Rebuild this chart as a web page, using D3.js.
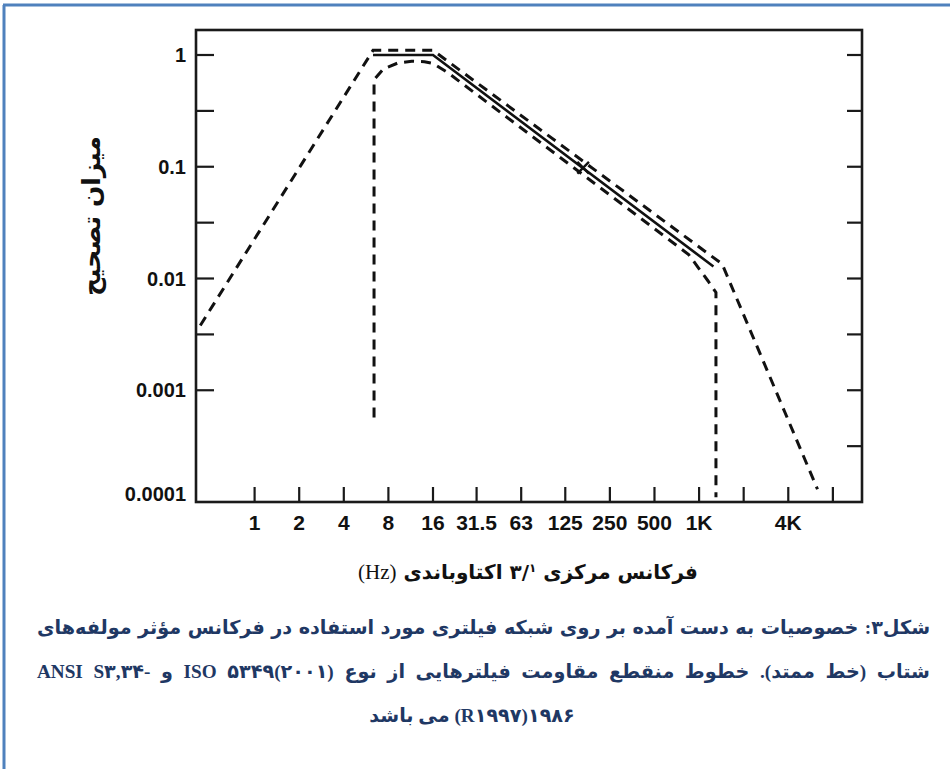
<!DOCTYPE html>
<html><head><meta charset="utf-8">
<script src="https://cdn.jsdelivr.net/npm/d3@7"></script>
<style>body{margin:0;background:#fff;} svg{display:block;}</style>
</head><body>
<svg id="chart" width="950" height="769"></svg>
<script>
// ---------- data ----------
const xTickValues = [1, 2, 4, 8, 16, 31.5, 63, 125, 250, 500, 1000, 2000, 4000, 8000];
const xTickLabels = ["1", "2", "4", "8", "16", "31.5", "63", "125", "250", "500", "1K", "", "4K", ""];
const yTickValues = [1, 0.1, 0.01, 0.001, 0.0001];
const yTickLabels = ["1", "0.1", "0.01", "0.001", "0.0001"];
const yMinorTicks = [0.316, 0.0316, 0.00316];
// solid line: frequency weighting
const weightFreq = [6.3, 16, 1250];
const weightVal = [1, 1, 0.0128];
// dashed upper tolerance
const upperFreq = [0.43, 6.3, 16, 1430, 6300];
const upperVal = [0.0038, 1.1, 1.1, 0.0135, 0.00013];
// dashed lower tolerance
const lowerFreq = [6.4, 6.4, 7.4, 9.3, 11.5, 14, 16, 20, 850, 1150, 1300, 1300];
const lowerVal = [0.00057, 0.6, 0.75, 0.85, 0.88, 0.87, 0.84, 0.7, 0.0164, 0.0095, 0.0075, 0.00011];
const crossMark = [165, 0.098];

const yTitle = "میزان تصحیح";
const xTitleA = "فرکانس مرکزی ۳/";
const xTitleSup = "۱";
const xTitleB = " اکتاوباندی ";
const xTitleHz = "(Hz)";
const captionLines = [
  "شکل۳: خصوصیات به دست آمده بر روی شبکه فیلتری مورد استفاده در فرکانس مؤثر مولفه‌های",
  "شتاب (خط ممتد). خطوط منقطع مقاومت فیلترهایی از نوع ISO ۵۳۴۹(۲۰۰۱) و ANSI S۳,۳۴-\u200E",
  "۱۹۸۶(R۱۹۹۷) می باشد"
];

// ---------- layout ----------
const svg = d3.select("#chart");
const frame = {left: 196, right: 862, top: 30, bottom: 502};
const x = d3.scaleLog().domain([1, 8000]).range([254.6, 254.6 + 44.6 * Math.log2(8000)]);
const y = d3.scaleLog().domain([0.0001, 1]).range([frame.bottom, 55]);

// outer blue border
svg.append("line").attr("x1", 3).attr("x2", 950).attr("y1", 5).attr("y2", 5)
  .attr("stroke", "#4f81bd").attr("stroke-width", 3);
svg.append("line").attr("x1", 4).attr("x2", 4).attr("y1", 5).attr("y2", 769)
  .attr("stroke", "#4f81bd").attr("stroke-width", 3);

// frame
svg.append("rect").attr("x", frame.left).attr("y", frame.top)
  .attr("width", frame.right - frame.left).attr("height", frame.bottom - frame.top)
  .attr("fill", "none").attr("stroke", "#1a1a1a").attr("stroke-width", 2.6);

const tickColor = "#1a1a1a";
// x ticks (upward from bottom)
svg.append("g").selectAll("line").data(xTickValues).join("line")
  .attr("x1", d => x(d)).attr("x2", d => x(d))
  .attr("y1", frame.bottom).attr("y2", frame.bottom - 15)
  .attr("stroke", tickColor).attr("stroke-width", 2.2);
svg.append("g").selectAll("text").data(xTickValues).join("text")
  .attr("x", d => x(d)).attr("y", 530)
  .attr("text-anchor", "middle")
  .attr("font-family", "'Liberation Sans Narrow', 'Arial Narrow', sans-serif")
  .attr("font-weight", "bold").attr("font-size", 21).attr("fill", "#111")
  .text((d, i) => xTickLabels[i]);

// y ticks left and right
const allY = yTickValues.slice(0, 4).concat(yMinorTicks);
svg.append("g").selectAll("line").data(allY).join("line")
  .attr("x1", frame.left).attr("x2", frame.left + 18)
  .attr("y1", d => y(d)).attr("y2", d => y(d))
  .attr("stroke", tickColor).attr("stroke-width", 2.2);
svg.append("g").selectAll("line").data(allY.concat([0.000316])).join("line")
  .attr("x1", frame.right).attr("x2", frame.right - 15)
  .attr("y1", d => y(d)).attr("y2", d => y(d))
  .attr("stroke", tickColor).attr("stroke-width", 2.2);
svg.append("g").selectAll("text").data(yTickValues).join("text")
  .attr("x", 186).attr("y", (d, i) => y(d) + (i === 4 ? -1 : 7))
  .attr("text-anchor", "end")
  .attr("font-family", "'Liberation Sans', Arial, sans-serif")
  .attr("font-weight", "bold").attr("font-size", 20).attr("fill", "#111")
  .text((d, i) => yTickLabels[i]);

// curves
const line = d3.line().x(d => x(d[0])).y(d => y(d[1]));
svg.append("path").datum(weightFreq.map((f, i) => [f, weightVal[i]]))
  .attr("d", line).attr("fill", "none").attr("stroke", "#111").attr("stroke-width", 2.6);
svg.append("path").datum(upperFreq.map((f, i) => [f, upperVal[i]]))
  .attr("d", line).attr("fill", "none").attr("stroke", "#111").attr("stroke-width", 3)
  .attr("stroke-dasharray", "10,7");
svg.append("path").datum(lowerFreq.map((f, i) => [f, lowerVal[i]]))
  .attr("d", line).attr("fill", "none").attr("stroke", "#111").attr("stroke-width", 3)
  .attr("stroke-dasharray", "10,7");
svg.append("path").attr("d", d3.symbol(d3.symbolX, 90)())
  .attr("transform", `translate(${x(crossMark[0])},${y(crossMark[1])})`)
  .attr("fill", "none").attr("stroke", "#111").attr("stroke-width", 2.4);

// y title
const yt = svg.append("text")
  .attr("transform", "translate(100,216) rotate(-90)")
  .attr("text-anchor", "middle").attr("direction", "rtl")
  .attr("font-family", "'DejaVu Sans', sans-serif").attr("font-weight", "bold")
  .attr("font-size", 22).attr("fill", "#111").text(yTitle);
{
  const L = yt.node().getComputedTextLength();
  yt.attr("font-size", 22 * 160 / L);
}

// x title
const xt = svg.append("text").attr("x", 528).attr("y", 579)
  .attr("text-anchor", "middle").attr("direction", "rtl")
  .attr("font-family", "'Liberation Serif', 'DejaVu Sans', serif")
  .attr("font-size", 20).attr("fill", "#111");
xt.append("tspan").attr("font-weight", "bold").attr("font-family", "'DejaVu Sans', sans-serif").text(xTitleA);
xt.append("tspan").attr("font-weight", "bold").attr("font-family", "'DejaVu Sans', sans-serif")
  .attr("font-size", 12).attr("baseline-shift", "super").text(xTitleSup);
xt.append("tspan").attr("font-weight", "bold").attr("font-family", "'DejaVu Sans', sans-serif").text(xTitleB);
xt.append("tspan").attr("font-size", 21).text(xTitleHz);

// caption
const capColor = "#1f3864";
const capFont = "'Liberation Serif', 'DejaVu Sans', serif";
const capY = [634, 678, 722];
let capSize = 20;
const t0 = svg.append("text").attr("font-family", capFont).attr("font-weight", "bold")
  .attr("font-size", capSize).attr("direction", "rtl").text(captionLines[0]);
const L0 = t0.node().getComputedTextLength();
t0.remove();
capSize = Math.min(22, capSize * 870 / L0);
captionLines.forEach((s, i) => {
  const t = svg.append("text").attr("y", capY[i])
    .attr("font-family", capFont).attr("font-weight", "bold")
    .attr("font-size", capSize).attr("fill", capColor)
    .attr("direction", "rtl").text(s);
  if (i < 2) {
    const L = t.node().getComputedTextLength();
    const n = (s.match(/ /g) || []).length;
    const ws = Math.max(0, (893 - L) / n);
    t.attr("word-spacing", ws).attr("x", 930).attr("text-anchor", "start");
  } else {
    t.attr("x", 472).attr("text-anchor", "middle");
  }
});
</script>
</body></html>
